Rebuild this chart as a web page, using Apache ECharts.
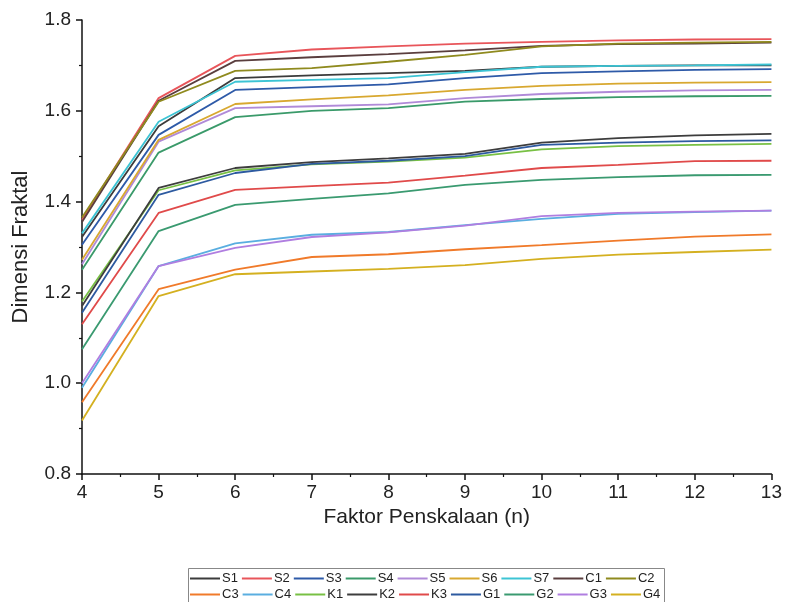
<!DOCTYPE html>
<html>
<head>
<meta charset="utf-8">
<script src="https://cdn.jsdelivr.net/npm/echarts@6/dist/echarts.min.js"></script>
<style>
html,body{margin:0;padding:0;background:#fff;}
#chart{width:785px;height:602px;}
</style>
</head>
<body>
<div id="chart"></div>
<script>
// X values (scaling factor n)
const xValues = [4, 5, 6, 7, 8, 9, 10, 11, 12, 13];

// Series names
const namesRow1 = ['S1','S2','S3','S4','S5','S6','S7','C1','C2'];
const namesRow2 = ['C3','C4','K1','K2','K3','G1','G2','G3','G4'];

// Fractal dimension values per series
const S1 = [1.322, 1.566, 1.672, 1.678, 1.683, 1.688, 1.697, 1.699, 1.700, 1.700];
const S2 = [1.360, 1.628, 1.721, 1.735, 1.742, 1.748, 1.752, 1.755, 1.757, 1.758];
const S3 = [1.305, 1.547, 1.646, 1.652, 1.658, 1.672, 1.683, 1.687, 1.690, 1.692];
const S4 = [1.250, 1.508, 1.586, 1.600, 1.606, 1.620, 1.626, 1.630, 1.632, 1.633];
const S5 = [1.262, 1.532, 1.606, 1.610, 1.614, 1.628, 1.637, 1.642, 1.645, 1.646];
const S6 = [1.272, 1.536, 1.615, 1.625, 1.634, 1.646, 1.655, 1.660, 1.662, 1.663];
const S7 = [1.330, 1.576, 1.664, 1.668, 1.672, 1.685, 1.697, 1.699, 1.700, 1.702];
const C1 = [1.355, 1.622, 1.710, 1.718, 1.725, 1.733, 1.743, 1.747, 1.748, 1.750];
const C2 = [1.365, 1.620, 1.688, 1.694, 1.708, 1.723, 1.742, 1.748, 1.750, 1.752];
const C3 = [0.958, 1.207, 1.250, 1.278, 1.284, 1.295, 1.304, 1.314, 1.323, 1.328];
const C4 = [0.990, 1.258, 1.308, 1.327, 1.333, 1.348, 1.362, 1.373, 1.377, 1.380];
const K1 = [1.180, 1.425, 1.469, 1.482, 1.488, 1.497, 1.515, 1.522, 1.525, 1.527];
const K2 = [1.170, 1.430, 1.474, 1.487, 1.495, 1.505, 1.530, 1.540, 1.546, 1.549];
const K3 = [1.130, 1.375, 1.426, 1.434, 1.442, 1.457, 1.474, 1.481, 1.489, 1.490];
const G1 = [1.155, 1.415, 1.463, 1.483, 1.490, 1.500, 1.525, 1.530, 1.533, 1.535];
const G2 = [1.075, 1.335, 1.393, 1.406, 1.418, 1.437, 1.448, 1.454, 1.458, 1.459];
const G3 = [1.000, 1.258, 1.298, 1.322, 1.332, 1.347, 1.368, 1.375, 1.378, 1.380];
const G4 = [0.918, 1.192, 1.240, 1.246, 1.252, 1.260, 1.274, 1.283, 1.289, 1.294];

// Y tick values
const yTicks = [0.8, 1.0, 1.2, 1.4, 1.6, 1.8];

const seriesValues = {S1,S2,S3,S4,S5,S6,S7,C1,C2,C3,C4,K1,K2,K3,G1,G2,G3,G4};
const colors = {
  S1:'#3b3b3b', S2:'#e8555a', S3:'#2e5aa8', S4:'#3a9a6a', S5:'#b08ad8',
  S6:'#d8a830', S7:'#3cc4d4', C1:'#5a3e3e', C2:'#8f8a1e', C3:'#f07a2a',
  C4:'#5aaee0', K1:'#78c044', K2:'#3d3d3d', K3:'#e04a4a', G1:'#2d5aa0',
  G2:'#3a9a70', G3:'#b07ee0', G4:'#d4b020'
};

const allNames = namesRow1.concat(namesRow2);
const series = allNames.map(n => ({
  name: n,
  type: 'line',
  symbol: 'none',
  showSymbol: false,
  data: xValues.map((x, i) => [x, seriesValues[n][i]]),
  lineStyle: { width: 1.8, color: colors[n] },
  itemStyle: { color: colors[n] },
  animation: false
}));

const FONT = 'Liberation Sans, Arial, sans-serif';
const legendCommon = {
  orient: 'horizontal',
  left: 190,
  itemWidth: 30,
  itemHeight: 10,
  itemGap: 4,
  padding: 0,
  textStyle: { fontFamily: FONT, fontSize: 13, color: '#222', padding: [0,0,0,-3] },
  icon: 'path://M0,0 L30,0 L30,2 L0,2 Z'
};

const chart = echarts.init(document.getElementById('chart'));
chart.setOption({
  backgroundColor: '#fff',
  animation: false,
  grid: { left: 82, right: 12, top: 20, bottom: 128, containLabel: false },
  xAxis: {
    type: 'value', min: 4, max: 13, interval: 1,
    name: 'Faktor Penskalaan (n)', nameLocation: 'middle', nameGap: 22,
    nameTextStyle: { fontFamily: FONT, fontSize: 21, color: '#222' },
    axisLine: { show: true, lineStyle: { color: '#111', width: 1.5 } },
    axisTick: { show: true, inside: false, length: 6, lineStyle: { color: '#111', width: 1.5 } },
    minorTick: { show: true, splitNumber: 2, length: 3, lineStyle: { color: '#111', width: 1.2 } },
    axisLabel: { fontFamily: FONT, fontSize: 19, color: '#222', margin: 9 },
    splitLine: { show: false }
  },
  yAxis: {
    type: 'value', min: yTicks[0], max: yTicks[yTicks.length-1], interval: 0.2,
    name: 'Dimensi Fraktal', nameLocation: 'middle', nameGap: 50,
    nameTextStyle: { fontFamily: FONT, fontSize: 22, color: '#222' },
    axisLine: { show: true, lineStyle: { color: '#111', width: 1.5 } },
    axisTick: { show: true, inside: false, length: 6, lineStyle: { color: '#111', width: 1.5 } },
    minorTick: { show: true, splitNumber: 2, length: 3, lineStyle: { color: '#111', width: 1.2 } },
    axisLabel: { fontFamily: FONT, fontSize: 19, color: '#222', margin: 11,
      formatter: v => v.toFixed(1) },
    splitLine: { show: false }
  },
  legend: [
    Object.assign({}, legendCommon, { top: 572, data: namesRow1 }),
    Object.assign({}, legendCommon, { top: 588, data: namesRow2 })
  ],
  graphic: [{
    type: 'rect', left: 186, top: 566, shape: { width: 476, height: 34 },
    style: { fill: 'none', stroke: '#888', lineWidth: 1 }, silent: true
  }],
  series: series
});
</script>
</body>
</html>
